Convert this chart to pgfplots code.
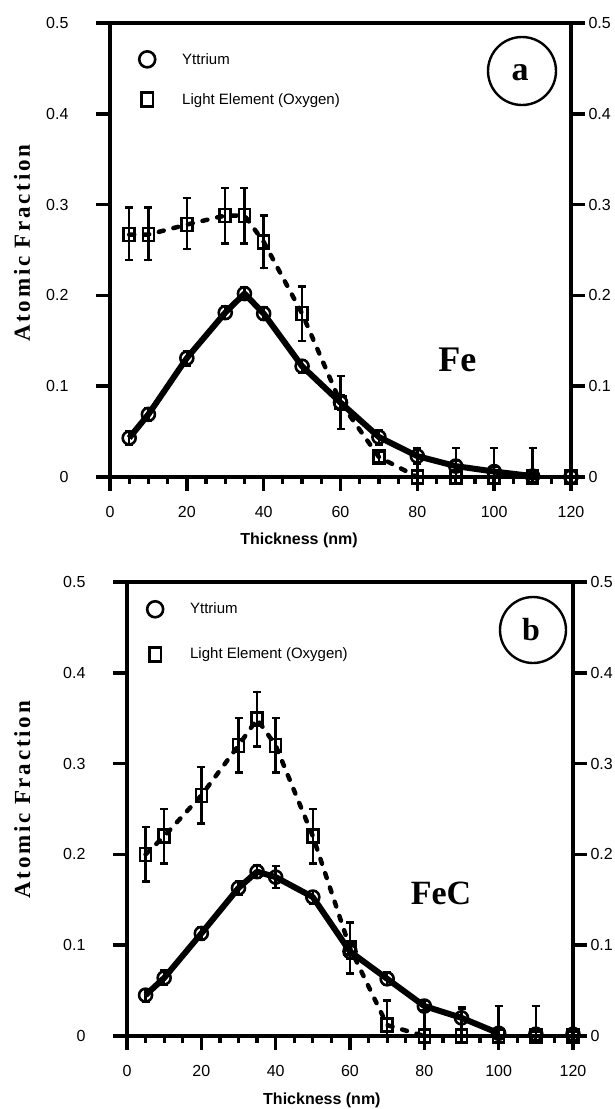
\documentclass[border=0pt]{standalone}
\usepackage{fontspec}
\setmainfont{Liberation Sans}
\newfontfamily\titleserif{Liberation Serif}
\newfontfamily\spacedserifbold[LetterSpace=12]{Liberation Serif Bold}
\usepackage{pgfplots}
\usepackage{pgfplotstable}
\pgfplotsset{compat=1.18}

% Panel (a): Fe
\pgfplotstableread{
x    y     ep    em
5    0.043 0.007 0.007
10   0.069 0.007 0.007
20   0.131 0.008 0.008
30   0.181 0.007 0.007
35   0.202 0.007 0.007
40   0.180 0.007 0.007
50   0.122 0.007 0.007
60   0.082 0.008 0.008
70   0.044 0.008 0.008
80   0.023 0.008 0.008
90   0.012 0.006 0.006
100  0.006 0.005 0.005
110  0.001 0.003 0.003
}\YFe
\pgfplotstableread{
x    y     ep    em
120  0.000 0.000 0.000
}\YFeEnd
\pgfplotstableread{
x    y     ep    em
5    0.267 0.030 0.028
10   0.267 0.030 0.028
20   0.278 0.029 0.027
30   0.288 0.030 0.031
35   0.288 0.030 0.031
40   0.259 0.029 0.029
50   0.180 0.030 0.030
60   0.082 0.029 0.029
70   0.022 0.006 0.006
80   0.000 0.032 0.000
}\OFe
\pgfplotstableread{
x    y     ep    em
90   0.000 0.032 0.000
100  0.000 0.032 0.000
110  0.000 0.032 0.000
120  0.000 0.000 0.000
}\OFeEnd

% Panel (b): FeC
\pgfplotstableread{
x    y     ep    em
5    0.045 0.007 0.007
10   0.064 0.008 0.008
20   0.113 0.007 0.007
30   0.163 0.007 0.007
35   0.181 0.007 0.007
40   0.175 0.012 0.012
50   0.153 0.007 0.007
60   0.093 0.008 0.008
70   0.063 0.007 0.007
80   0.033 0.006 0.006
90   0.020 0.012 0.012
100  0.003 0.004 0.003
}\YFeC
\pgfplotstableread{
x    y     ep    em
110  0.002 0.003 0.002
120  0.002 0.003 0.002
}\YFeCEnd
\pgfplotstableread{
x    y     ep    em
5    0.200 0.030 0.030
10   0.220 0.030 0.030
20   0.265 0.031 0.031
30   0.320 0.030 0.030
35   0.349 0.030 0.030
40   0.320 0.030 0.030
50   0.220 0.030 0.030
60   0.097 0.028 0.028
70   0.012 0.027 0.012
80   0.000 0.028 0.000
}\OFeC
\pgfplotstableread{
x    y     ep    em
90   0.000 0.030 0.000
100  0.000 0.033 0.000
110  0.000 0.033 0.000
120  0.000 0.000 0.000
}\OFeCEnd

\pgfplotsset{
  panel/.style={
    scale only axis,
    xmin=0, xmax=120, ymin=0, ymax=0.5,
    xtick={0,20,...,120},
    ytick={0,0.1,0.2,0.3,0.4,0.5},
    minor x tick num=3,
    xtick pos=left, ytick pos=left,
    tick align=outside,
    major tick length=14pt, minor tick length=7pt,
    every tick/.append style={line width=3.6pt, black},
    major tick style={line width=3.6pt, black},
    minor tick style={line width=3.2pt, black},
    ticklabel style={font=\fontsize{16}{16}\selectfont},
    xticklabel style={yshift=-12pt},
    yticklabel style={xshift=-24pt},
    /pgf/number format/assume math mode=true,
    /pgf/number format/fixed,
    clip=false,
    xlabel style={font=\fontsize{16}{16}\selectfont\bfseries, anchor=center},
    ylabel style={font=\fontsize{23}{23}\spacedserifbold, anchor=center},
    legend style={draw=none, fill=none, inner sep=0pt,
      font=\fontsize{15}{15}\selectfont,
      nodes={inner sep=0pt, anchor=west}},
    legend cell align=left,
  },
  rightaxis/.style={
    scale only axis,
    xmin=0, xmax=120, ymin=0, ymax=0.5,
    axis x line=none, axis y line*=right,
    ytick={0,0.1,0.2,0.3,0.4,0.5},
    ytick pos=right, yticklabel pos=right,
    tick align=outside, major tick length=14pt,
    every tick/.append style={line width=3.6pt, black},
    major tick style={line width=3.6pt, black},
    ticklabel style={font=\fontsize{16}{16}\selectfont},
    /pgf/number format/assume math mode=true,
    /pgf/number format/fixed,
  },
  errstyle/.style={
    /pgfplots/error bars/y dir=both,
    /pgfplots/error bars/y explicit,
    /pgfplots/error bars/error bar style={line width=2.4pt, solid},
    /pgfplots/error bars/error mark options={rotate=90, mark size=4pt, line width=2.4pt}},
  ytline/.style={black, line width=6pt, line join=round,
    mark=o, mark size=6.5pt, mark options={solid, line width=2.6pt},
    errstyle},
  oxline/.style={black, line width=4.5pt, line cap=round,
    dash pattern=on 5pt off 10pt,
    mark=square, mark size=6.5pt, mark options={solid, xscale=0.85, line width=2.6pt},
    errstyle},
  ytmarks/.style={ytline, only marks},
  oxmarks/.style={oxline, only marks},
  keyimage/.style={legend image code/.code={
    \path[draw=none, fill=none] (-9pt,-8pt) rectangle (35pt,8pt);
    \draw[##1] plot coordinates {(0pt,0pt)};}},
}

\begin{document}
\begin{tikzpicture}
\path[use as bounding box] (0pt,0pt) rectangle (614pt,-1109pt);

% ---------- (a) Fe ----------
\begin{axis}[panel,
  width=461pt, height=454pt,
  at={(110pt,-477pt)}, anchor=south west,
  xlabel={Thickness (nm)},
  xlabel style={at={(axis description cs:0.41,0)}, yshift=-63pt},
  ylabel={Atomic Fraction},
  ylabel style={at={(axis description cs:-0.191,0.515)}},
  legend style={at={(axis cs:7.3,0.469)}, anchor=north west, row sep=24pt},
]
\addlegendimage{keyimage, mark=o, mark size=8pt, mark options={line width=2.6pt}}
\addlegendentry{Yttrium}
\addlegendimage{keyimage, mark=square, mark size=7pt, mark options={xscale=0.85, line width=2.6pt}}
\addlegendentry{Light Element (Oxygen)}

\addplot[oxline, forget plot] table[x=x, y=y, y error plus=ep, y error minus=em] {\OFe};
\addplot[oxmarks, forget plot] table[x=x, y=y, y error plus=ep, y error minus=em] {\OFeEnd};
\addplot[ytline, forget plot] table[x=x, y=y, y error plus=ep, y error minus=em] {\YFe};
\addplot[ytmarks, forget plot] table[x=x, y=y, y error plus=ep, y error minus=em] {\YFeEnd};

% heavy frame round the plot area
\draw[line width=3.4pt, line cap=rect] (rel axis cs:0,0) rectangle (rel axis cs:1,1);
\node[font=\fontsize{36}{36}\titleserif\bfseries] at (axis cs:90.4,0.129) {Fe};
\end{axis}
\begin{axis}[rightaxis, width=461pt, height=454pt,
  at={(110pt,-477pt)}, anchor=south west]
\end{axis}
\draw[line width=2.4pt] (522pt,-71pt) circle (34pt);
\node[font=\fontsize{34}{34}\titleserif\bfseries] at (520pt,-73pt) {a};

% ---------- (b) FeC ----------
\begin{axis}[panel,
  width=446pt, height=454pt,
  at={(127pt,-1036pt)}, anchor=south west,
  xlabel={Thickness (nm)},
  xlabel style={at={(axis description cs:0.437,0)}, yshift=-64pt},
  ylabel={Atomic Fraction},
  ylabel style={at={(axis description cs:-0.235,0.52)}},
  legend style={at={(axis cs:5.1,0.479)}, anchor=north west, row sep=29pt},
]
\addlegendimage{keyimage, mark=o, mark size=8pt, mark options={line width=2.6pt}}
\addlegendentry{Yttrium}
\addlegendimage{keyimage, mark=square, mark size=7pt, mark options={xscale=0.85, line width=2.6pt}}
\addlegendentry{Light Element (Oxygen)}

\addplot[oxline, forget plot] table[x=x, y=y, y error plus=ep, y error minus=em] {\OFeC};
\addplot[oxmarks, forget plot] table[x=x, y=y, y error plus=ep, y error minus=em] {\OFeCEnd};
\addplot[ytline, forget plot] table[x=x, y=y, y error plus=ep, y error minus=em] {\YFeC};
\addplot[ytmarks, forget plot] table[x=x, y=y, y error plus=ep, y error minus=em] {\YFeCEnd};

% heavy frame round the plot area
\draw[line width=3.4pt, line cap=rect] (rel axis cs:0,0) rectangle (rel axis cs:1,1);
\node[font=\fontsize{34}{34}\titleserif\bfseries] at (axis cs:84.5,0.157) {FeC};
\end{axis}
\begin{axis}[rightaxis, width=446pt, height=454pt,
  at={(127pt,-1036pt)}, anchor=south west]
\end{axis}
\draw[line width=2.4pt] (533pt,-630pt) circle (33pt);
\node[font=\fontsize{32}{32}\titleserif\bfseries] at (531pt,-630pt) {b};

\end{tikzpicture}
\end{document}
